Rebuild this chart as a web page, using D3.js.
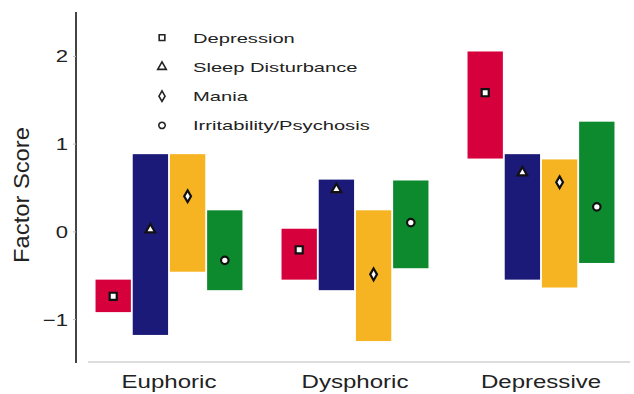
<!DOCTYPE html>
<html><head><meta charset="utf-8">
<script src="https://cdn.jsdelivr.net/npm/d3@7"></script>
<style>body{margin:0;background:#fff}svg{display:block}</style>
</head><body><svg id="c" width="634" height="394"></svg>
<script>
const categories = ["Euphoric", "Dysphoric", "Depressive"];
const series = ["Depression", "Sleep Disturbance", "Mania", "Irritability/Psychosis"];
// per series: [Euphoric, Dysphoric, Depressive]
const highs = [[-0.55, 0.03, 2.05], [0.88, 0.59, 0.88], [0.88, 0.24, 0.82], [0.24, 0.58, 1.25]];
const lows  = [[-0.92, -0.55, 0.83], [-1.18, -0.67, -0.55], [-0.46, -1.25, -0.64], [-0.67, -0.42, -0.36]];
const means = [[-0.74, -0.21, 1.58], [0.02, 0.48, 0.67], [0.40, -0.49, 0.56], [-0.33, 0.10, 0.28]];
const yTicks = [-1, 0, 1, 2];
const colors = ["#d6003c", "#1c1a78", "#f7b422", "#0e8a2e"];
const shapes = [d3.symbolSquare, d3.symbolTriangle, d3.symbolDiamond, d3.symbolCircle];

(function () {
const svg = d3.select("#c");
const pL = 76, pR = 634, pT = 12, pB = 363;
const FONT = "Liberation Sans, Arial, sans-serif";

const y = d3.scaleLinear().domain([-1.5, 2.5]).range([pB, pT]);
const x0 = d3.scaleBand().domain(categories).range([pL, pR]).paddingInner(0.21).paddingOuter(0.105);
const x1 = d3.scaleBand().domain(series).range([0, x0.bandwidth()]).paddingInner(0.05);

const rows = [];
series.forEach((s, i) => categories.forEach((c, j) => rows.push({s, i, c, hi: highs[i][j], lo: lows[i][j], m: means[i][j]})));

svg.append("g").selectAll("rect").data(rows).join("rect")
  .attr("x", d => x0(d.c) + x1(d.s))
  .attr("width", x1.bandwidth())
  .attr("y", d => y(d.hi))
  .attr("height", d => y(d.lo) - y(d.hi))
  .attr("fill", d => colors[d.i]);

svg.append("g").selectAll("path").data(rows).join("path")
  .attr("transform", d => `translate(${x0(d.c) + x1(d.s) + x1.bandwidth()/2},${y(d.m)})`)
  .attr("d", d => d3.symbol().type(shapes[d.i]).size([50, 40, 40, 44][d.i])())
  .attr("fill", "#fff").attr("stroke", "#111").attr("stroke-width", 2.2);

// axes
svg.append("line").attr("x1", 88).attr("x2", 630).attr("y1", pB - 1).attr("y2", pB - 1)
  .attr("stroke", "#bbb").attr("stroke-width", 1.2);
const yAxis = svg.append("g").attr("transform", `translate(${pL},0)`)
  .call(d3.axisLeft(y).tickValues(yTicks).tickSize(3).tickPadding(5).tickFormat(d => d < 0 ? "−" + Math.abs(d) : d));
yAxis.select(".domain").attr("stroke", "#444").attr("stroke-width", 2).attr("d", `M0,${pT}V${pB}`);
yAxis.selectAll(".tick line").attr("stroke", "#bbb");
yAxis.selectAll(".tick text").each(function () {
  const t = d3.select(this);
  const xx = +t.attr("x");
  t.attr("x", null).attr("dy", null)
   .attr("transform", `translate(${xx},6) scale(1.3,1)`)
   .attr("font-family", FONT).attr("font-size", 17).attr("fill", "#222");
});

svg.append("text").attr("transform", `translate(29,${195}) rotate(-90) scale(1.25,1.2)`)
  .attr("text-anchor", "middle").attr("font-family", FONT)
  .attr("font-size", 19).attr("fill", "#222").text("Factor Score");

svg.append("g").selectAll("text").data(categories).join("text")
  .attr("transform", d => `translate(${x0(d) + x0.bandwidth()/2},388) scale(1.3,1)`)
  .attr("text-anchor", "middle").attr("font-family", FONT)
  .attr("font-size", 18.5).attr("fill", "#222").text(d => d);

// legend
const lg = svg.append("g");
const ly = d3.scaleBand().domain(series).range([23, 140]);
series.forEach((s, i) => {
  const yy = ly(s) + ly.bandwidth()/2;
  lg.append("path").attr("transform", `translate(162,${yy})`)
    .attr("d", d3.symbol().type(shapes[i]).size(32)())
    .attr("fill", "#fff").attr("stroke", "#222").attr("stroke-width", 1.6);
  lg.append("text").attr("transform", `translate(193,${yy + 5}) scale(1.55,1)`)
    .attr("font-family", FONT).attr("font-size", 13).attr("fill", "#222").text(s);
});
})();
</script></body></html>
